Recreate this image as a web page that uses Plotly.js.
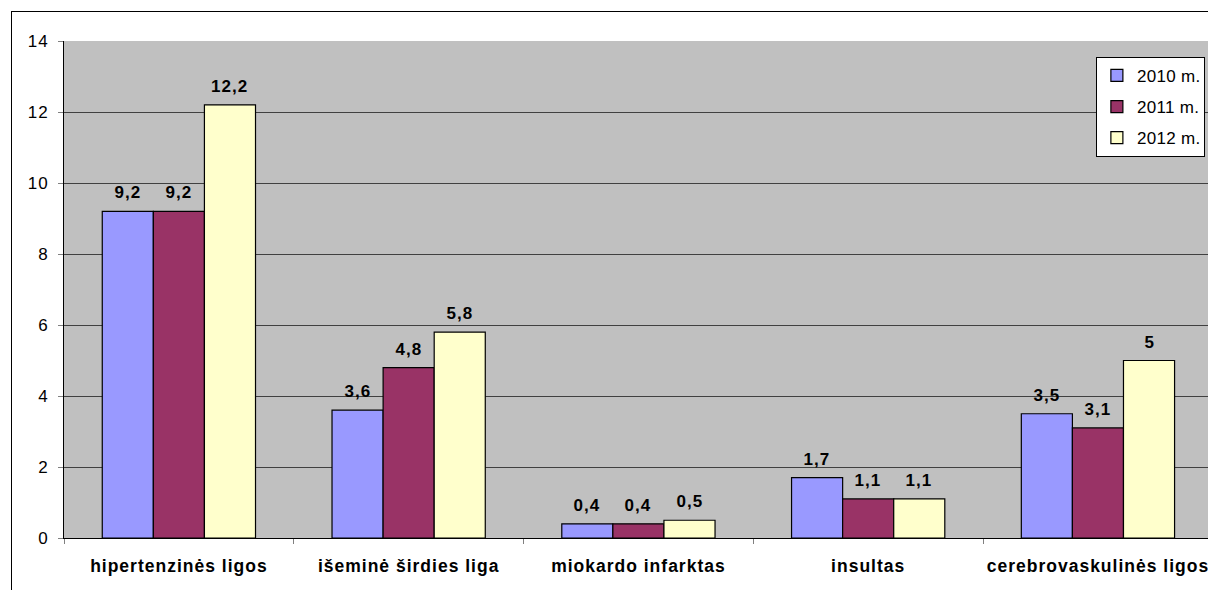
<!DOCTYPE html>
<html><head><meta charset="utf-8">
<script src="https://cdn.plot.ly/plotly-3.0.1.min.js"></script>
<style>
html,body{margin:0;padding:0;background:#fff;}
#wrap{position:relative;width:1208px;height:590px;}
#chart{width:1208px;height:590px;}
#chart svg text{letter-spacing:1px;}
#chart svg .legend text{letter-spacing:0.3px;}
#frame{position:absolute;left:11px;top:11px;width:1300px;height:700px;border-left:1.5px solid #000;border-top:1.5px solid #000;pointer-events:none;}
</style>
</head><body>
<div id="wrap"><div id="chart"></div><div id="frame"></div></div>
<script>
const categories = ["hipertenzinės ligos", "išeminė širdies liga", "miokardo infarktas", "insultas", "cerebrovaskulinės ligos"];
const seriesNames = ["2010 m.", "2011 m.", "2012 m."];
const values2010 = [9.2, 3.6, 0.4, 1.7, 3.5];
const values2011 = [9.2, 4.8, 0.4, 1.1, 3.1];
const values2012 = [12.2, 5.8, 0.5, 1.1, 5];
const yTicks = [0, 2, 4, 6, 8, 10, 12, 14];

const FONT = 'Liberation Sans, Arial, sans-serif';
const colors = ["#9999FF", "#993366", "#FFFFCC"];
const allValues = [values2010, values2011, values2012];
const fmt = v => String(v).replace('.', ',');
const BARGAP = 0.333;
const barW = (1 - BARGAP) / allValues.length;

const traces = allValues.map((vals, i) => ({
  type: 'bar',
  name: seriesNames[i],
  x: categories,
  y: vals,
  marker: {color: colors[i], line: {color: '#000', width: 1.2}},
  legendgroup: 'g' + i,
  hoverinfo: 'skip'
}));

// value labels placed above each bar, aligned with the grouped bar positions
const annotations = [];
allValues.forEach((vals, i) => {
  vals.forEach((v, j) => {
    annotations.push({
      xref: 'x', yref: 'y',
      x: j + (i - (allValues.length - 1) / 2) * barW,
      y: v,
      text: fmt(v),
      showarrow: false,
      yanchor: 'bottom',
      yshift: 7,
      font: {family: FONT, size: 17, color: '#000', weight: 'bold'}
    });
  });
});

const layout = {
  width: 1208, height: 590,
  margin: {l: 64, r: 0, t: 41, b: 52, pad: 0, autoexpand: false},
  paper_bgcolor: 'rgba(0,0,0,0)',
  plot_bgcolor: '#C0C0C0',
  barmode: 'group',
  bargap: BARGAP,
  bargroupgap: 0,
  showlegend: true,
  font: {family: FONT, size: 17, color: '#000'},
  annotations: annotations,
  xaxis: {
    type: 'category',
    range: [-0.5, 4.479],
    tickson: 'boundaries',
    ticks: 'outside', ticklen: 5, tickcolor: '#808080',
    showline: true, linecolor: '#000', linewidth: 1,
    showgrid: false,
    automargin: false,
    ticklabelstandoff: 12,
    tickfont: {family: FONT, size: 17.5, color: '#000', weight: 'bold'}
  },
  yaxis: {
    range: [0, 14],
    tickvals: yTicks,
    ticktext: yTicks.map(String),
    ticks: 'outside', ticklen: 5, tickcolor: '#808080',
    showline: true, linecolor: '#000', linewidth: 1,
    showgrid: true, gridcolor: '#404040', gridwidth: 1,
    zeroline: false,
    automargin: false,
    ticklabelstandoff: 6,
    tickfont: {family: FONT, size: 17, color: '#000'}
  },
  legend: {
    x: 0.902, y: 0.968, xanchor: 'left', yanchor: 'top',
    bgcolor: '#fff', bordercolor: '#000', borderwidth: 1,
    tracegroupgap: 6,
    font: {family: FONT, size: 17, color: '#000'},
    itemwidth: 30
  }
};

Plotly.newPlot('chart', traces, layout, {staticPlot: true, displayModeBar: false});
</script>
</body></html>
